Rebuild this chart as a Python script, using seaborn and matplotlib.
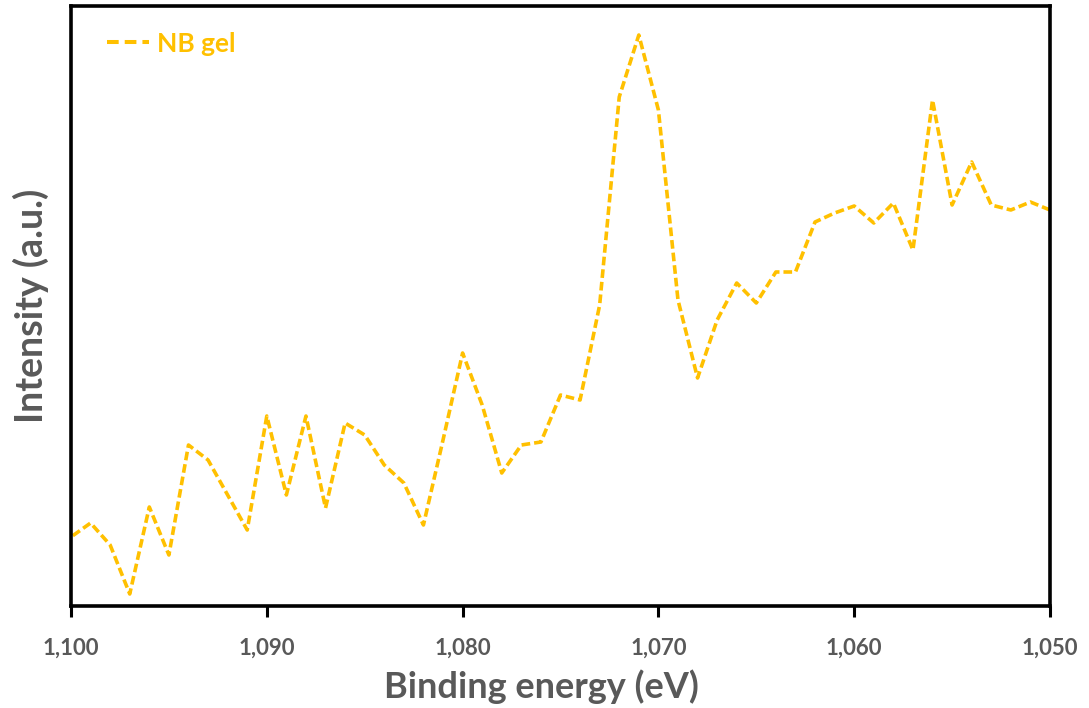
import matplotlib
matplotlib.use("Agg")
import matplotlib.pyplot as plt
import seaborn as sns
import pandas as pd

# XPS scan, 1 eV steps from 1100 down to 1050 eV (arbitrary intensity units)
binding_energy = list(range(1100, 1049, -1))
intensity = [
    65, 79, 57, 8, 95, 47, 157, 142, 107, 72,      # 1100-1091
    186, 107, 186, 94, 179, 167, 137, 119, 77, 162,  # 1090-1081
    249, 197, 129, 157, 160, 207, 202, 297, 505, 567,  # 1080-1071
    492, 302, 224, 282, 319, 299, 330, 330, 380, 389,  # 1070-1061
    396, 379, 399, 352, 502, 397, 440, 397, 392, 400,  # 1060-1051
    392,                                              # 1050
]
series_name = "NB gel"
x_ticks = [1100, 1090, 1080, 1070, 1060, 1050]

df = pd.DataFrame({"Binding energy": binding_energy,
                   "Intensity": intensity,
                   "Sample": series_name})

sns.set_style("white")
plt.rcParams["font.family"] = ["Lato", "DejaVu Sans"]

gold = "#FFC000"
grey = "#595959"

fig = plt.figure(figsize=(10.89, 7.08), dpi=100)
ax = fig.add_axes([71 / 1089, (708 - 606) / 708, (1050 - 71) / 1089, (606 - 6) / 708])

sns.lineplot(data=df, x="Binding energy", y="Intensity", hue="Sample",
             palette=[gold], linewidth=2.6, ax=ax, legend=True)
for line in ax.lines:
    line.set_dashes((2.4, 1.1))

ax.set_xlim(1100, 1050)
ax.set_ylim(-4, 596)
ax.set_xticks(x_ticks)
ax.set_xticklabels([f"{v:,}" for v in x_ticks])
ax.set_yticks([])

for side in ["left", "right", "top", "bottom"]:
    ax.spines[side].set_visible(True)
    ax.spines[side].set_color("black")
    ax.spines[side].set_linewidth(2.6)

ax.tick_params(axis="x", direction="out", length=8, width=2.2, color="black",
               labelsize=16, labelcolor=grey, pad=15, bottom=True)
for lbl in ax.get_xticklabels():
    lbl.set_fontweight("bold")

ax.set_xlabel("Binding energy (eV)", fontsize=26, fontweight="bold",
              color=grey, labelpad=4)
ax.xaxis.set_label_coords(0.481, -0.105)
ax.set_ylabel("Intensity (a.u.)", fontsize=27, fontweight="bold",
              color=grey, labelpad=16)

leg = ax.legend(loc="upper left", frameon=False, fontsize=19,
                handlelength=1.6, handletextpad=0.3,
                borderaxespad=0.0, bbox_to_anchor=(0.026, 0.975))
for text in leg.get_texts():
    text.set_color(gold)
    text.set_fontweight("bold")
for h in leg.get_lines():
    h.set_linewidth(2.9)
    h.set_dashes((2.9, 1.5))

fig.savefig("out.png", dpi=100, facecolor="white")
